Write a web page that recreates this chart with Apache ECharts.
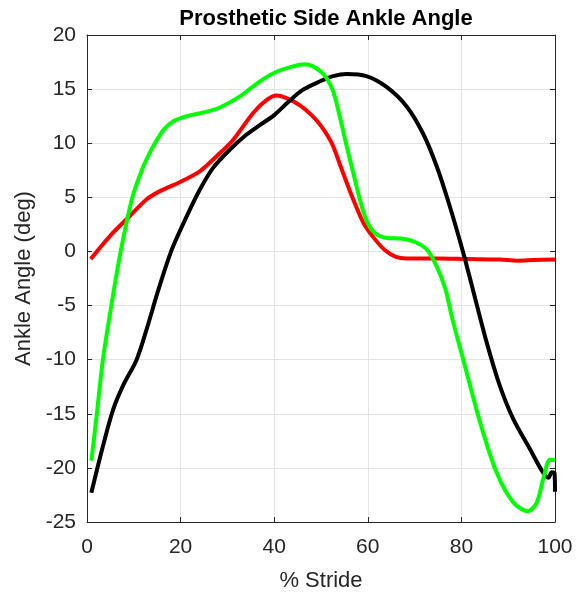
<!DOCTYPE html>
<html>
<head>
<meta charset="utf-8">
<script src="https://cdn.jsdelivr.net/npm/echarts@6/dist/echarts.min.js"></script>
<style>html,body{margin:0;padding:0;background:#fff}#c{width:577px;height:597px}</style>
</head>
<body>
<div id="c"></div>
<script>
const titleText = 'Prosthetic Side Ankle Angle';
const xName = '% Stride';
const yName = 'Ankle Angle (deg)';
const xTicks = [0, 20, 40, 60, 80, 100];
const yTicks = [-25, -20, -15, -10, -5, 0, 5, 10, 15, 20];

const redX = [0.8, 4.85, 9.1, 12.7, 15.5, 19.8, 24.1, 27.7, 31.2, 35.5, 38.4, 40.5, 43.0, 45.5, 48.0, 50.0, 52.3, 54.5, 56.7, 59.0, 61.2, 63.7, 66.0, 68.3, 75, 81.1, 88.2, 92, 95.3, 100];
const redY = [-0.7, 1.4, 3.25, 4.8, 5.55, 6.4, 7.4, 8.8, 10.3, 12.8, 14.0, 14.4, 14.1, 13.5, 12.6, 11.6, 10.0, 7.5, 5.0, 2.7, 1.3, 0.1, -0.5, -0.65, -0.65, -0.7, -0.75, -0.85, -0.8, -0.75];

const greenX = [0.93, 2.1, 3.4, 5.2, 7.2, 9.7, 11.8, 13.4, 14.8, 16.5, 18.4, 21.3, 25.5, 28.4, 32.6, 36.9, 40.5, 44.0, 46.5, 48.3, 50.0, 51.2, 52.6, 54.0, 55.5, 56.9, 58.3, 59.7, 61.5, 64.0, 66.9, 69.7, 72.6, 74.7, 76.6, 78.1, 80.4, 84.0, 87.5, 91.1, 94.2, 96.1, 97.5, 98.9, 100];
const greenY = [-19.35, -15.0, -10.0, -5.0, 0.0, 5.0, 7.6, 9.1, 10.2, 11.3, 12.0, 12.5, 12.9, 13.3, 14.3, 15.7, 16.6, 17.1, 17.3, 17.1, 16.6, 16.0, 14.8, 12.5, 9.7, 7.25, 4.8, 2.9, 1.7, 1.25, 1.2, 0.94, 0.18, -1.36, -3.5, -6.3, -10.0, -15.8, -20.4, -23.2, -24.0, -23.2, -21.0, -19.25, -19.3];

const blackX = [0.93, 3.4, 5.6, 7.7, 10.6, 12.8, 15.0, 17.0, 18.4, 21.3, 24.1, 26.9, 30.5, 34.1, 37.0, 40.0, 43.0, 46.0, 49.7, 52.6, 55.5, 59.7, 64.0, 68.3, 71.8, 74.7, 77.5, 80.4, 82.5, 85.4, 88.2, 91.1, 94.7, 97.4, 98.6, 99.3, 99.9, 100];
const blackY = [-22.3, -18.0, -14.6, -12.4, -10.0, -7.1, -3.9, -1.2, 0.48, 3.25, 5.7, 7.7, 9.4, 10.8, 11.7, 12.6, 13.8, 14.9, 15.7, 16.2, 16.4, 16.2, 15.2, 13.4, 10.9, 7.9, 4.2, -0.13, -3.6, -8.4, -12.4, -15.5, -18.3, -20.4, -20.9, -20.4, -20.5, -22.2];

function pairs(xs, ys) { return xs.map((x, i) => [x, ys[i]]); }

const axisColor = '#262626';
const font = 'Liberation Sans, Arial, Helvetica, sans-serif';

const chart = echarts.init(document.getElementById('c'), null, {renderer: 'canvas'});

function lineSeries(name, color, data) {
  return {
    name, type: 'line', data, showSymbol: false, symbol: 'none',
    smooth: 0.3, clip: true,
    lineStyle: {color, width: 4, cap: 'butt', join: 'round'},
    xAxisIndex: 0, yAxisIndex: 0, animation: false
  };
}

const baseAxisLine = {show: true, onZero: false, lineStyle: {color: axisColor, width: 1}};
const tickStyle = {show: true, inside: true, length: 5, lineStyle: {color: axisColor, width: 1}};

chart.setOption({
  animation: false,
  backgroundColor: '#ffffff',
  title: {
    text: titleText, left: 321, top: 3, textAlign: 'center',
    textStyle: {fontFamily: font, fontSize: 22, fontWeight: 'bold', color: '#000'}
  },
  grid: {left: 87, right: 22, top: 35, bottom: 73, containLabel: false},
  xAxis: [{
    type: 'value', min: xTicks[0], max: xTicks[xTicks.length - 1], interval: xTicks[1] - xTicks[0],
    position: 'bottom',
    name: xName, nameLocation: 'middle', nameGap: 48,
    nameTextStyle: {fontFamily: font, fontSize: 22, color: axisColor},
    axisLine: baseAxisLine, axisTick: tickStyle,
    axisLabel: {fontFamily: font, fontSize: 21, color: axisColor, margin: 15},
    splitLine: {show: true, lineStyle: {color: '#e3e3e3', width: 1}}
  }, {
    type: 'value', min: xTicks[0], max: xTicks[xTicks.length - 1], interval: xTicks[1] - xTicks[0],
    position: 'top',
    axisLine: baseAxisLine, axisTick: tickStyle, axisLabel: {show: false}, splitLine: {show: false}
  }],
  yAxis: [{
    type: 'value', min: yTicks[0], max: yTicks[yTicks.length - 1], interval: yTicks[1] - yTicks[0],
    position: 'left',
    name: yName, nameLocation: 'middle', nameGap: 52, nameRotate: 90,
    nameTextStyle: {fontFamily: font, fontSize: 22, color: axisColor},
    axisLine: baseAxisLine, axisTick: tickStyle,
    axisLabel: {fontFamily: font, fontSize: 21, color: axisColor, margin: 11},
    splitLine: {show: true, lineStyle: {color: '#e3e3e3', width: 1}}
  }, {
    type: 'value', min: yTicks[0], max: yTicks[yTicks.length - 1], interval: yTicks[1] - yTicks[0],
    position: 'right',
    axisLine: baseAxisLine, axisTick: tickStyle, axisLabel: {show: false}, splitLine: {show: false}
  }],
  series: [
    lineSeries('Red', '#ff0000', pairs(redX, redY)),
    lineSeries('Black', '#000000', pairs(blackX, blackY)),
    lineSeries('Green', '#00ff00', pairs(greenX, greenY))
  ]
});
</script>
</body>
</html>
